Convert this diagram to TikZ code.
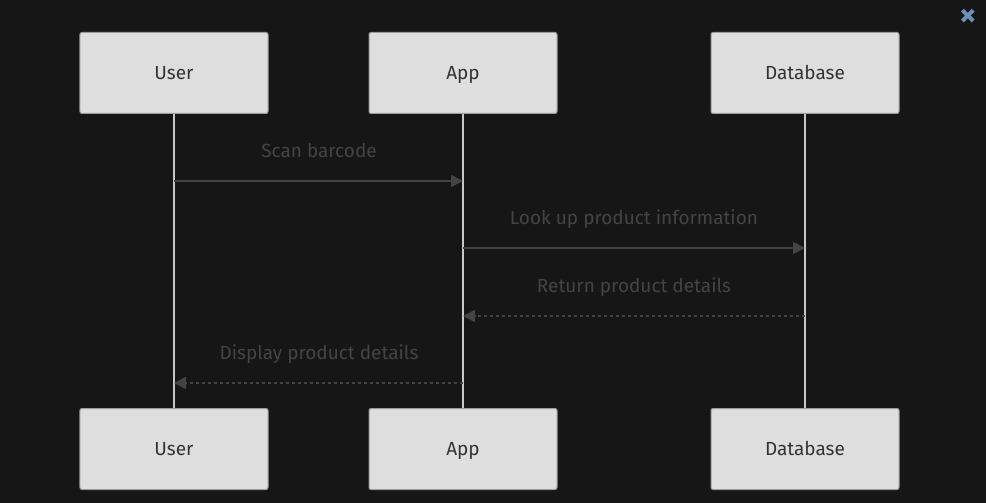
\documentclass[tikz,border=0pt]{standalone}
\usepackage{fontspec}
\setmainfont{Fira Sans}
\usetikzlibrary{arrows.meta}
\definecolor{bg}{HTML}{161616}
\definecolor{boxfill}{HTML}{DEDEDE}
\definecolor{boxline}{HTML}{9A9A9A}
\definecolor{boxtext}{HTML}{333333}
\definecolor{msgcol}{HTML}{444444}
\definecolor{lifecol}{HTML}{C8C8C8}
\definecolor{closecol}{HTML}{6F8FB8}
\tikzset{
  actor/.style={draw=boxline, line width=1bp, fill=boxfill, rounded corners=2bp,
    minimum width=188bp, minimum height=81bp, inner sep=0pt, text=boxtext,
    text height=13.5bp, text depth=0bp,
    font=\fontsize{19bp}{22bp}\selectfont},
  lifeline/.style={draw=lifecol, line width=2bp},
  msg/.style={draw=msgcol, line width=1.6bp, -{Triangle[length=12bp,width=12bp]}},
  reply/.style={msg, dash pattern=on 3bp off 3bp},
  msglabel/.style={text=msgcol, font=\fontsize{19bp}{22bp}\selectfont, inner sep=0pt,
    text height=13.5bp, text depth=0bp},
}
\begin{document}
\begin{tikzpicture}[x=1bp,y=-1bp]
\fill[bg] (0,0) rectangle (986,503);
\useasboundingbox (0,0) rectangle (986,503);
% close mark
\node[text=closecol, font=\bfseries\fontsize{34bp}{34bp}\selectfont, inner sep=0pt] (close) at (968,18) {×};
% top actors
\node[actor] (ut) at (174,73) {User};
\node[actor] (at) at (463,73) {App};
\node[actor] (dt) at (805,73) {Database};
% bottom actors
\node[actor] (ub) at (174,449) {User};
\node[actor] (ab) at (463,449) {App};
\node[actor] (db) at (805,449) {Database};
% lifelines
\draw[lifeline] (ut.south) -- (ub.north);
\draw[lifeline] (at.south) -- (ab.north);
\draw[lifeline] (dt.south) -- (db.north);
% message anchor points
\coordinate (m1s) at (174,181); \coordinate (m1e) at (463,181);
\coordinate (m2s) at (463,248); \coordinate (m2e) at (805,248);
\coordinate (m3s) at (805,316); \coordinate (m3e) at (463,316);
\coordinate (m4s) at (463,383); \coordinate (m4e) at (174,383);
\draw[msg] (m1s) -- (m1e);
\draw[msg] (m2s) -- (m2e);
\draw[reply] (m3s) -- (m3e);
\draw[reply] (m4s) -- (m4e);
\node[msglabel] (l1) at (319,151) {Scan barcode};
\node[msglabel] (l2) at (634,218) {Look up product information};
\node[msglabel] (l3) at (634,286) {Return product details};
\node[msglabel] (l4) at (319,353) {Display product details};
\end{tikzpicture}
\end{document}
